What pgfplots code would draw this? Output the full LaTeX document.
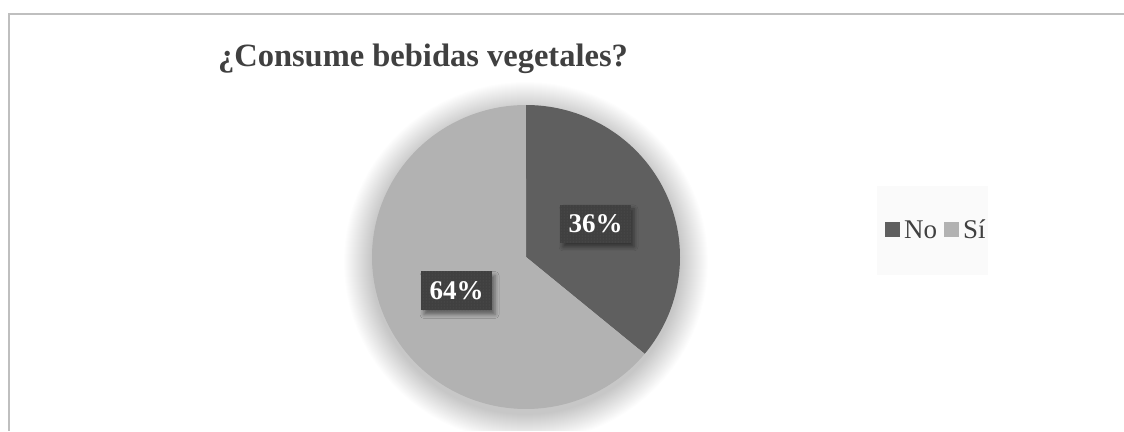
\documentclass[border=0pt]{standalone}
\usepackage{pgfplots}
\pgfplotsset{compat=1.18}
\usepackage{fontspec}
\setmainfont{Liberation Serif}
\usetikzlibrary{shadows.blur,patterns}
\definecolor{noC}{HTML}{5F5F5F}
\definecolor{siC}{HTML}{B2B2B2}
\definecolor{txt}{HTML}{404040}
\definecolor{frameC}{HTML}{BFBFBF}
\definecolor{lbl}{HTML}{404040}
\definecolor{legbg}{HTML}{FAFAFA}

% data (percent)
\def\valNo{36}
\def\valSi{64}
\pgfmathsetmacro\angB{90-3.6*(\valNo/(\valNo+\valSi))*100}
\pgfmathsetmacro\angC{\angB-3.6*(\valSi/(\valNo+\valSi))*100}

\begin{document}
\begin{tikzpicture}
\begin{axis}[
  scale only axis, width=1124pt, height=431pt,
  xmin=0, xmax=1124, ymin=0, ymax=431,
  hide axis, clip=true,
  legend columns=2,
  legend image code/.code={\fill[#1, draw=none] (0pt,-7.5pt) rectangle (15pt,7.5pt);},
  legend style={at={(axis cs:885,201)}, anchor=west, draw=none, fill=none,
    font=\fontsize{27}{31}\selectfont, text=txt, inner sep=0pt,
    nodes={inner xsep=4pt, inner ysep=0pt},
    /tikz/every even column/.append style={column sep=3pt}},
]
% frame
\draw[frameC, line width=1.5pt] (axis cs:9,0) -- (axis cs:9,417) -- (axis cs:1124,417);
% title
\node[anchor=base, text=txt, font=\fontsize{32.5}{38}\selectfont\bfseries] at (axis cs:423,364.3) {¿Consume bebidas vegetales?};
% legend background
\fill[legbg] (axis cs:877,245) rectangle (axis cs:988,156);
% soft shadow of the pie
\pgfplotsinvokeforeach{0,...,27}{
  \addplot[fill=black, opacity=0.0075, draw=none, forget plot, domain=0:360, samples=90, variable=\t]
    ({526+(182-1*#1)*cos(\t)},{169+(180-1*#1)*sin(\t)}) -- cycle;
}
% slices
\addplot[fill=noC, draw=none, forget plot, domain=\angB:90, samples=90, variable=\t]
  ({526+154*cos(\t)},{174+152*sin(\t)}) -- (axis cs:526,174) -- cycle;
\addplot[fill=siC, draw=none, forget plot, domain=\angC:\angB, samples=160, variable=\t]
  ({526+154*cos(\t)},{174+152*sin(\t)}) -- (axis cs:526,174) -- cycle;
\addlegendimage{fill=noC}
\addlegendentry{No}
\addlegendimage{fill=siC}
\addlegendentry{Sí}
% data labels
\node[fill=lbl, minimum width=71pt, minimum height=38pt, inner sep=0pt, text=white,
  font=\fontsize{27}{31}\selectfont\bfseries,
  blur shadow={shadow xshift=3pt, shadow yshift=-4pt, shadow blur radius=4pt, shadow opacity=45},
  postaction={pattern=dots, pattern color=white!12!lbl}] at (axis cs:595.5,207) {\valNo\%};
\node[fill=lbl, minimum width=71pt, minimum height=39pt, inner sep=0pt, text=white,
  font=\fontsize{27}{31}\selectfont\bfseries,
  blur shadow={shadow xshift=3pt, shadow yshift=-4pt, shadow blur radius=4pt, shadow opacity=45},
  postaction={pattern=dots, pattern color=white!12!lbl}] at (axis cs:456.5,140) {\valSi\%};
\end{axis}
\pgfresetboundingbox
\path (current axis.south west) rectangle (current axis.north east);
\end{tikzpicture}
\end{document}
